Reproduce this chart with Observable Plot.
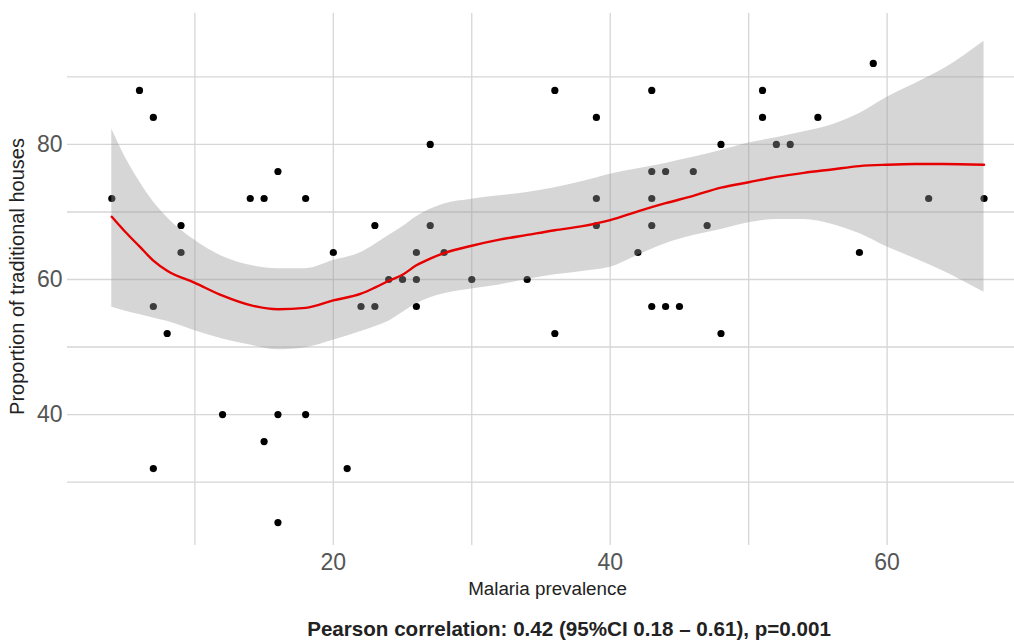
<!DOCTYPE html>
<html>
<head>
<meta charset="utf-8">
<script src="https://cdn.jsdelivr.net/npm/d3@7"></script>
<script src="https://cdn.jsdelivr.net/npm/@observablehq/plot@0.6"></script>
<style>
  html, body { margin: 0; padding: 0; background: #fff; }
</style>
</head>
<body>
<div id="chart"></div>
<script>
// Scatter points: malaria prevalence (x) vs proportion of traditional houses (y)
const prevalence = [4, 6, 7, 7, 7, 8, 9, 9, 12, 14, 15, 15, 16, 16, 16, 18, 18, 20, 21, 22, 23, 23, 24, 25, 26, 26, 26, 27, 27, 28, 30, 34, 36, 36, 39, 39, 39, 42, 43, 43, 43, 43, 43, 44, 44, 45, 46, 47, 48, 48, 51, 51, 52, 53, 55, 58, 59, 63, 67];
const traditional = [72, 88, 84, 56, 32, 52, 68, 64, 40, 72, 72, 36, 76, 40, 24, 72, 40, 64, 32, 56, 68, 56, 60, 60, 64, 60, 56, 80, 68, 64, 60, 60, 88, 52, 84, 72, 68, 64, 88, 76, 72, 68, 56, 76, 56, 56, 76, 68, 80, 52, 88, 84, 80, 80, 84, 64, 92, 72, 72];

// Loess smooth
const smoothX = [4, 5, 6, 7, 8, 10, 12, 14, 16, 18, 20, 22, 23, 24, 25, 26, 27, 28, 30, 32, 34, 36, 38, 40, 42, 44, 46, 48, 50, 52, 54, 56, 58, 60, 62, 64, 67];
const smoothFit = [69.3, 67.0, 64.9, 62.8, 61.3, 59.5, 57.6, 56.2, 55.6, 55.8, 56.9, 57.9, 58.8, 59.8, 60.7, 62.1, 63.1, 63.9, 65.0, 65.9, 66.6, 67.3, 67.9, 68.8, 70.1, 71.3, 72.4, 73.6, 74.4, 75.2, 75.8, 76.3, 76.8, 77.0, 77.1, 77.1, 77.0];
const smoothUpper = [82.3, 78.0, 74.5, 71.5, 69.2, 65.8, 63.4, 62.1, 61.6, 61.6, 62.8, 64.0, 65.2, 66.5, 67.8, 69.3, 70.4, 71.2, 71.9, 72.4, 72.9, 73.6, 74.5, 75.6, 76.4, 77.2, 78.1, 79.1, 80.2, 81.0, 81.9, 82.9, 84.6, 87.0, 89.0, 91.1, 95.3];
const smoothLower = [55.9, 55.3, 54.8, 54.3, 53.8, 52.4, 51.2, 50.3, 49.6, 49.9, 51.0, 52.3, 53.0, 53.8, 55.1, 56.4, 57.3, 57.9, 58.6, 59.2, 60.0, 60.7, 61.2, 61.8, 63.6, 65.3, 66.5, 67.4, 68.4, 68.9, 68.9, 68.2, 66.8, 64.8, 63.1, 61.3, 58.1];

const xTicks = [20, 40, 60];
const yTicks = [40, 60, 80];
const xGrid = [10, 20, 30, 40, 50, 60];
const yGrid = [30, 40, 50, 60, 70, 80, 90];

const xLabel = "Malaria prevalence";
const yLabel = "Proportion of traditional houses";
const caption = "Pearson correlation: 0.42 (95%CI 0.18 – 0.61), p=0.001";

const points = prevalence.map((x, i) => ({x, y: traditional[i]}));
const smooth = smoothX.map((x, i) => ({x, fit: smoothFit[i], lo: smoothLower[i], hi: smoothUpper[i]}));

const font = "'Liberation Sans', Arial, sans-serif";
const gridColor = "#d6d6d6";

const chart = Plot.plot({
  width: 1014,
  height: 641,
  marginLeft: 67,
  marginRight: 0,
  marginTop: 13,
  marginBottom: 96,
  x: {domain: [0.8, 69.2]},
  y: {domain: [20.6, 99.4]},
  style: {fontFamily: font, background: "#fff", overflow: "visible"},
  marks: [
    Plot.gridX(xGrid, {stroke: gridColor, strokeOpacity: 1, strokeWidth: 1.3}),
    Plot.gridY(yGrid, {stroke: gridColor, strokeOpacity: 1, strokeWidth: 1.3}),
    Plot.dot(points, {x: "x", y: "y", r: 3.6, fill: "#000", stroke: "none"}),
    Plot.areaY(smooth, {x: "x", y1: "lo", y2: "hi", fill: "#999999", fillOpacity: 0.4, curve: "monotone-x"}),
    Plot.line(smooth, {x: "x", y: "fit", stroke: "#e60000", strokeWidth: 2.4, curve: "monotone-x"}),
    Plot.axisX(xTicks, {tickSize: 0, tickPadding: 8, fontSize: 23, color: "#555", label: null}),
    Plot.axisY(yTicks, {tickSize: 0, tickPadding: 5, fontSize: 23, color: "#555", label: null}),
    Plot.text([xLabel], {text: d => d, frameAnchor: "bottom", dx: 6.5, dy: 49, fontSize: 18.8, fill: "#222"}),
    Plot.text([yLabel], {text: d => d, frameAnchor: "left", textAnchor: "middle", rotate: -90, dx: -50, dy: -3, fontSize: 20, fill: "#222"}),
    Plot.text([caption], {text: d => d, frameAnchor: "bottom", dx: 28, dy: 90, fontSize: 20.6, fontWeight: "bold", fill: "#222"})
  ]
});
document.getElementById("chart").appendChild(chart);
</script>
</body>
</html>
